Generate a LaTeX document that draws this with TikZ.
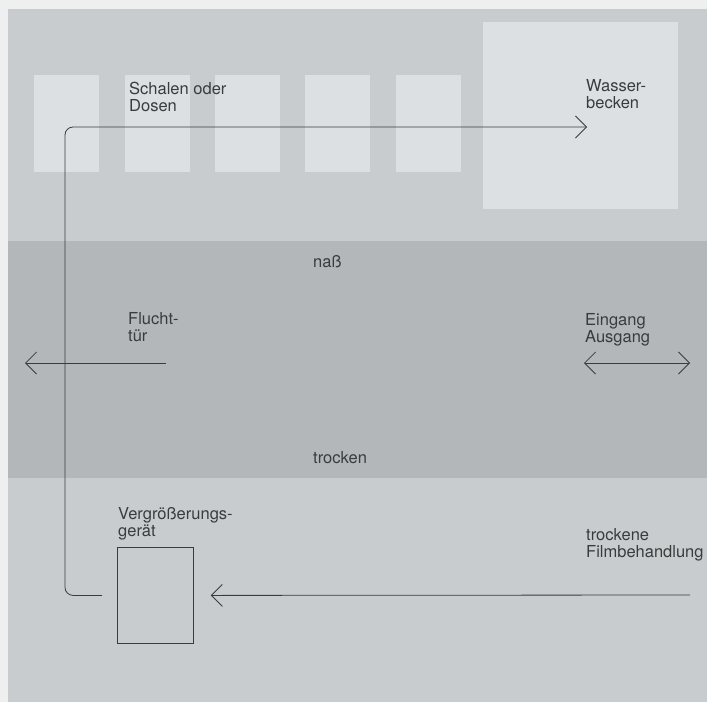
\documentclass[tikz,border=0pt]{standalone}
\usepackage{fontspec}
\setmainfont{TeX Gyre Heros}
\usetikzlibrary{arrows.meta, positioning}
\definecolor{paper}{HTML}{EEEFEF}
\definecolor{dryzone}{HTML}{C9CCCE}
\definecolor{wetzone}{HTML}{B4B7BA}
\definecolor{trayfill}{HTML}{DDE0E2}
\definecolor{ink}{HTML}{3A3B3C}

\begin{document}
\begin{tikzpicture}[
    x=1pt, y=-1pt, node distance=25pt,
    >={Straight Barb[length=11pt, width=22pt]},
    traybox/.style={fill=trayfill, inner sep=0pt, anchor=north west,
                    minimum width=65pt, minimum height=97pt},
    roomtext/.style={font=\fontsize{16.5}{17.5}\selectfont, text=ink,
                     align=left, inner sep=0pt, anchor=base west},
    flow/.style={draw=ink, line width=0.8pt}
  ]
  \useasboundingbox (0,0) rectangle (707,702);
  \fill[paper] (0,0) rectangle (707,702);

  % zones
  \fill[dryzone] (8,9) rectangle (707,241);
  \fill[wetzone] (8,241) rectangle (707,478);
  \fill[dryzone] (8,478) rectangle (707,702);

  % trays and basin
  \node[traybox] (tray1) at (34,75) {};
  \node[traybox, right=of tray1] (tray2) {};
  \node[traybox, right=of tray2] (tray3) {};
  \node[traybox, right=of tray3] (tray4) {};
  \node[traybox, right=of tray4] (tray5) {};
  \node[traybox, minimum width=195pt, minimum height=187pt]
       (basin) at (483,22) {};

  % enlarger
  \node[draw=ink, line width=0.8pt, inner sep=0pt, anchor=north west,
        minimum width=76pt, minimum height=96pt] (enlarger) at (117,547) {};

  % texts (base = last line)
  \node[roomtext] (trays) at (129,111.5) {Schalen oder\\Dosen};
  \node[roomtext] (basintext) at (586,108.5) {Wasser-\\becken};
  \node[roomtext] (wet) at (313,267) {naß};
  \node[roomtext] (escape) at (128,341.5) {Flucht-\\tür};
  \node[roomtext] (dry) at (313,463) {trocken};
  \node[roomtext] (door) at (585,342.5) {Eingang\\Ausgang};
  \node[roomtext] (enlargertext) at (118,536.5) {Vergrößerungs-\\gerät};
  \node[roomtext] (filmtext) at (586,557.5) {trockene\\Filmbehandlung};

  % flow
  \coordinate (flowstart) at ([xshift=-15pt]enlarger.west);
  \coordinate (basintip) at (587,127);
  \coordinate (filmin) at (690,595);
  \coordinate (escapefrom) at (166,363);
  \coordinate (escapeto) at (25,363);
  \coordinate (doorin) at (584,363);
  \coordinate (doorout) at (690,363);

  \draw[flow, ->, rounded corners=8pt]
    (flowstart) -| (65,127) -- (basintip);
  \draw[flow, ->] (filmin) -- ([xshift=17pt]enlarger.east);
  \draw[flow, ->] (escapefrom) -- (escapeto);
  \draw[flow, <->] (doorin) -- (doorout);
\end{tikzpicture}
\end{document}
